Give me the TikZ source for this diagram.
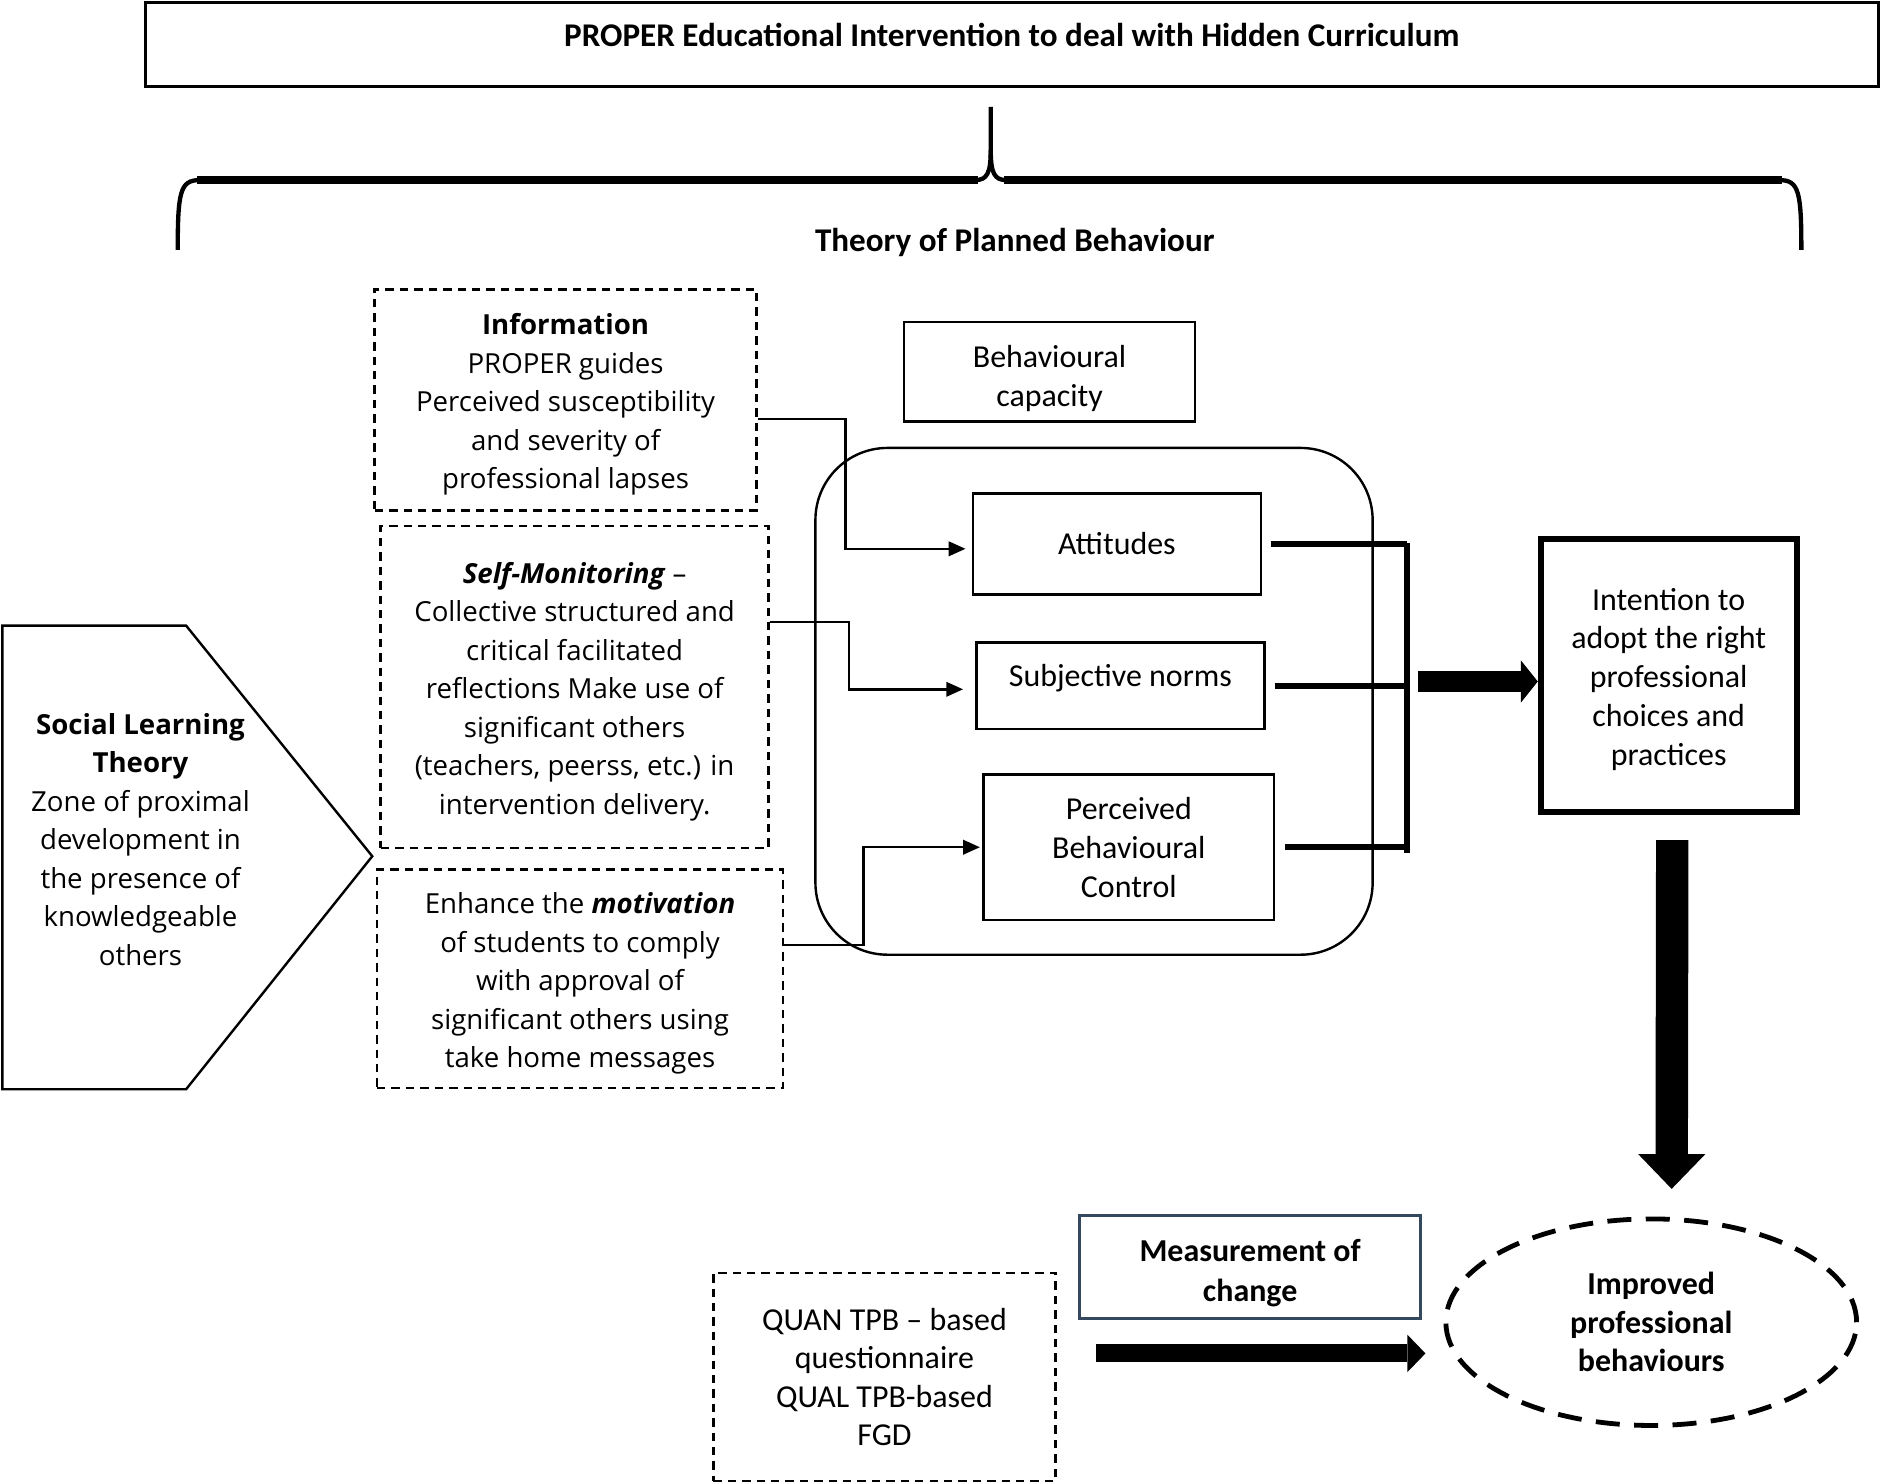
\documentclass[tikz,border=0pt]{standalone}
\usepackage{fontspec}
\setmainfont{Carlito}
\newfontfamily\wideface{Open Sans}
\usetikzlibrary{positioning,arrows.meta,shapes.geometric}
\definecolor{slateedge}{RGB}{52,73,94}
\newcommand{\padtop}[1]{\rule{0pt}{#1}}
\tikzset{
  plain box/.style={draw, line width=1pt, align=center, inner sep=0pt, font=\fontsize{13.3}{16.2}\selectfont},
  dash box/.style={draw, line width=1pt, dash pattern=on 3.5pt off 2.5pt, align=center, inner sep=0pt, font=\wideface\fontsize{11.5}{16}\selectfont},
  thin link/.style={line width=1pt, -{Triangle[length=7pt,width=6pt]}},
  bar link/.style={line width=2.5pt},
}

\begin{document}
\begin{tikzpicture}[x=0.5pt,y=-0.5pt]
\useasboundingbox (0,0) rectangle (1568,1235);

\node[plain box, line width=1.3pt, minimum width=721.5pt, minimum height=35pt, text depth=8pt, font=\bfseries\fontsize{13.8}{16}\selectfont] (top) at (842.5,37) {PROPER Educational Intervention to deal with Hidden Curriculum};

\draw[line width=1.8pt] (148,208) .. controls (148,160) and (150,150) .. (166,150);
\draw[line width=1.8pt] (1500,208) .. controls (1500,160) and (1498,150) .. (1482,150);
\draw[line width=3.2pt] (164,150) -- (814,150);
\draw[line width=3.2pt] (836,150) -- (1484,150);
\draw[line width=1.8pt] (812,150) .. controls (822,150) and (825,144) .. (825,125) -- (825,89);
\draw[line width=1.8pt] (838,150) .. controls (828,150) and (825,144) .. (825,125);
\node[font=\bfseries\fontsize{13.8}{16}\selectfont] (tpb) at (845,202) {Theory of Planned Behaviour};

\node[dash box, minimum width=159pt, minimum height=92pt] (info) at (471,333) {\padtop{12.7pt}\textbf{Information}\\PROPER guides\\Perceived susceptibility\\and severity of\\professional lapses};
\node[dash box, minimum width=161.5pt, minimum height=134pt] (selfmon) at (478.5,572) {\padtop{12.7pt}\textbf{\textit{Self-Monitoring}} –\\Collective structured and\\critical facilitated\\reflections Make use of\\significant others\\(teachers, peerss, etc.) in\\intervention delivery.};
\node[dash box, minimum width=169pt, minimum height=91pt] (motiv) at (483,815) {\padtop{12.7pt}Enhance the \textbf{\textit{motivation}}\\of students to comply\\with approval of\\significant others using\\take home messages};

\draw[line width=1pt] (2,521) -- (155,521) -- (310,713) -- (155,907) -- (2,907) -- cycle;
\node[align=center, font=\wideface\fontsize{11.5}{16}\selectfont] (slt) at (117,699) {\textbf{Social Learning}\\\textbf{Theory}\\Zone of proximal\\development in\\the presence of\\knowledgeable\\others};

\node[plain box, minimum width=121pt, minimum height=41.5pt] (capacity) at (874,309.5) {\padtop{15.2pt}Behavioural\\capacity};
\node[draw, line width=1pt, rounded corners=30pt, minimum width=232pt, minimum height=211pt] (frame) at (911,584) {};
\node[plain box, minimum width=120pt, minimum height=42pt] (att) at (930,453) {Attitudes};
\node[plain box, text depth=8.5pt, minimum width=120pt, minimum height=36pt] (subj) at (933,571) {Subjective norms};
\node[plain box, minimum width=121pt, minimum height=60.5pt] (pbc) at (940,705.5) {Perceived\\Behavioural\\Control};
\node[plain box, line width=2.5pt, minimum width=106.5pt, minimum height=113.5pt] (intent) at (1389.5,562.5) {\padtop{12.4pt}Intention to\\adopt the right\\professional\\choices and\\practices};

\node[plain box, draw=slateedge, line width=1.3pt, minimum width=142pt, minimum height=43pt, font=\bfseries\fontsize{13.3}{16.5}\selectfont] (meas) at (1041,1055) {\padtop{14.3pt}Measurement of\\change};
\node[dash box, font=\fontsize{13.3}{16}\selectfont, minimum width=142.5pt, minimum height=86.5pt] (quan) at (736.5,1146.5) {QUAN TPB – based\\questionnaire\\QUAL TPB-based\\FGD};
\node[draw, ellipse, line width=2pt, dash pattern=on 10pt off 6pt, minimum width=171pt, minimum height=86pt, inner sep=0pt, align=center, font=\bfseries\fontsize{13.3}{16}\selectfont] (impr) at (1375,1101) {Improved\\professional\\behaviours};

\draw[thin link, shorten >=2.5pt] ([yshift=-8pt]info.east) -- ++(73,0) |- ([yshift=-2pt]att.west);
\draw[thin link, shorten >=5pt] ([yshift=27pt]selfmon.east) -- ++(66,0) |- ([yshift=-1.5pt]subj.west);
\draw[thin link, shorten >=1pt] ([yshift=14pt]motiv.east) -- ++(66,0) |- (pbc.west);

\coordinate (bartop) at (1172,452);
\coordinate (barbot) at (1172,710);
\draw[bar link] (bartop) -- (barbot);
\draw[bar link] ([xshift=3.5pt]att.east) -- (att.east -| bartop);
\draw[bar link] ([xshift=4pt]subj.east) -- (subj.east -| bartop);
\draw[bar link] ([xshift=4pt]pbc.east) -- (pbc.east -| bartop);

\draw[line width=8.5pt, -{Triangle[length=7pt,width=17.5pt,line width=0pt]}] ([yshift=-2.5pt,xshift=-50pt]intent.west) -- ([yshift=-2.5pt]intent.west);
\draw[line width=13.5pt, -{Triangle[length=14.5pt,width=28pt,line width=0pt]}] ([xshift=1.5pt,yshift=-10.5pt]intent.south) -- ([xshift=8.5pt,yshift=11.5pt]impr.north);

\coordinate (mstart) at (913,1127);
\coordinate (mend) at (1187,1127);
\draw[line width=7.5pt, -{Triangle[length=7.5pt,width=15.5pt,line width=0pt]}] (mstart) -- (mend);
\end{tikzpicture}
\end{document}
